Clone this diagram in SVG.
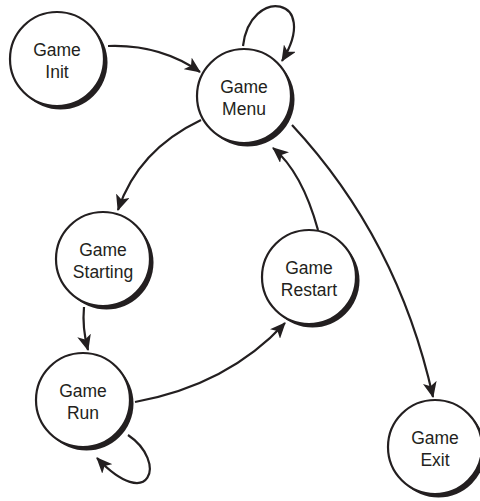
<svg xmlns="http://www.w3.org/2000/svg" width="480" height="501" viewBox="0 0 480 501">
<style>
.sh{fill:#231f20}
.c{fill:#fff;stroke:#231f20;stroke-width:2.2}
.t{font-family:"Liberation Sans",Arial,sans-serif;font-size:17.5px;fill:#231f20;text-anchor:middle}
.e{fill:none;stroke:#231f20;stroke-width:2.2;marker-end:url(#ah)}
</style>
<defs>
<marker id="ah" markerUnits="userSpaceOnUse" markerWidth="16" markerHeight="14" viewBox="0 0 16 14" refX="15" refY="7" orient="auto">
<path d="M0,0 L16,7 L0,14 L4,7 z" fill="#231f20"/>
</marker>
</defs>
<rect width="480" height="501" fill="#fff"/>
<g id="edges">
<path class="e" d="M108,46 Q160,44 200,72"/>
<path class="e" d="M243,46 C250,-14 322,-4 282,61"/>
<path class="e" d="M201,120 Q138,150 118,210"/>
<path class="e" d="M84,307 Q82,328 88,350"/>
<path class="e" d="M135,402 Q228,385 285,323"/>
<path class="e" d="M318,230 Q302,172 273,148"/>
<path class="e" d="M292,125 Q398,239 433,397"/>
<path class="e" d="M128,435 C168,462 150,514 97,458"/>
</g>
<g id="init"><circle class="sh" cx="60.5" cy="62.5" r="47"/><circle class="c" cx="57" cy="59" r="47"/><text class="t" x="57" y="56">Game</text><text class="t" x="57" y="78">Init</text></g>
<g id="menu"><circle class="sh" cx="247.5" cy="99.5" r="47"/><circle class="c" cx="244" cy="96" r="47"/><text class="t" x="244" y="93">Game</text><text class="t" x="244" y="115">Menu</text></g>
<g id="starting"><circle class="sh" cx="106.5" cy="262.5" r="47"/><circle class="c" cx="103" cy="259" r="47"/><text class="t" x="103" y="256">Game</text><text class="t" x="103" y="278">Starting</text></g>
<g id="restart"><circle class="sh" cx="312.5" cy="280.5" r="47"/><circle class="c" cx="309" cy="277" r="47"/><text class="t" x="309" y="274">Game</text><text class="t" x="309" y="296">Restart</text></g>
<g id="run"><circle class="sh" cx="86.5" cy="403.5" r="47"/><circle class="c" cx="83" cy="400" r="47"/><text class="t" x="83" y="397">Game</text><text class="t" x="83" y="419">Run</text></g>
<g id="exit"><circle class="sh" cx="438.5" cy="450.5" r="47"/><circle class="c" cx="435" cy="447" r="47"/><text class="t" x="435" y="444">Game</text><text class="t" x="435" y="466">Exit</text></g>
</svg>
